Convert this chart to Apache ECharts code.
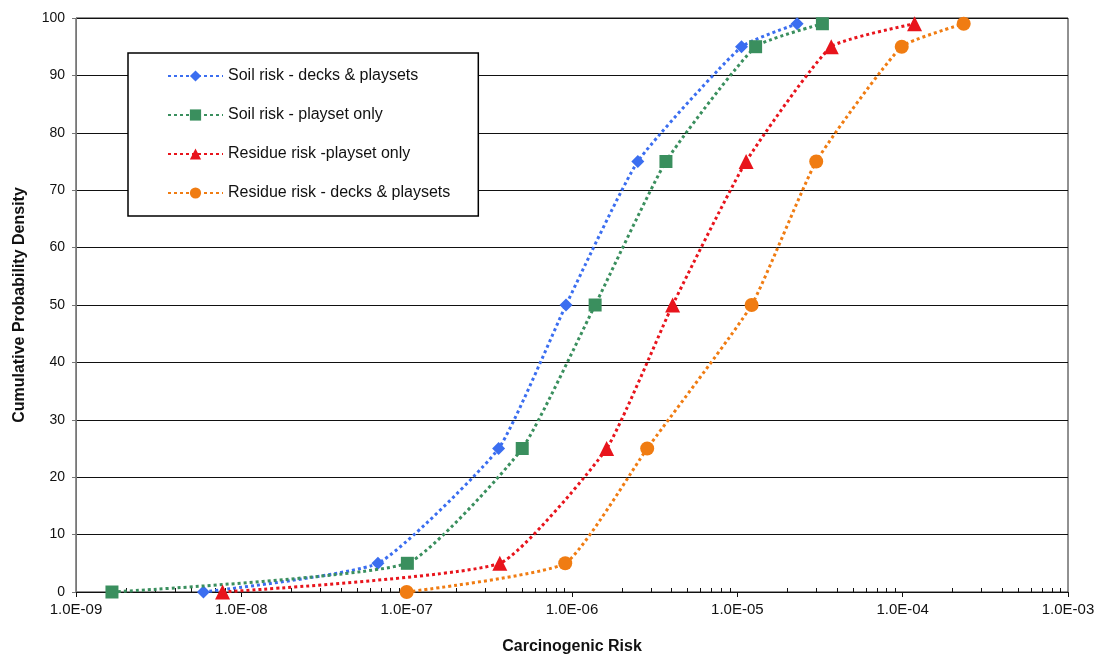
<!DOCTYPE html>
<html>
<head>
<meta charset="utf-8">
<script src="https://cdn.jsdelivr.net/npm/echarts@6/dist/echarts.min.js"></script>
<style>html,body{margin:0;padding:0;background:#fff}#c{width:1103px;height:659px}</style>
</head>
<body>
<div id="c"></div>
<script>
// Cumulative probability levels (y values)
const percentiles = [0, 5, 25, 50, 75, 95, 99];
// Carcinogenic risk values (x values) for each series
const soilDecks = [5.9e-9, 6.7e-8, 3.6e-7, 9.2e-7, 2.5e-6, 1.06e-5, 2.3e-5];
const soilPlayset = [1.65e-9, 1.01e-7, 5.0e-7, 1.38e-6, 3.7e-6, 1.29e-5, 3.27e-5];
const residuePlayset = [7.7e-9, 3.66e-7, 1.62e-6, 4.06e-6, 1.13e-5, 3.7e-5, 1.18e-4];
const residueDecks = [1.0e-7, 9.1e-7, 2.85e-6, 1.22e-5, 3.0e-5, 9.87e-5, 2.34e-4];
const seriesNames = ['Soil risk - decks & playsets', 'Soil risk - playset only', 'Residue risk -playset only', 'Residue risk - decks & playsets'];
// Tick labels for x axis decades
const xTickValues = [1e-9, 1e-8, 1e-7, 1e-6, 1e-5, 1e-4, 1e-3];
const xTickLabels = ['1.0E-09', '1.0E-08', '1.0E-07', '1.0E-06', '1.0E-05', '1.0E-04', '1.0E-03'];
const minorTickValues = [];
for (let e = -9; e < -3; e++) { for (let m = 2; m <= 9; m++) minorTickValues.push(m * Math.pow(10, e)); }

const pair = xs => xs.map((x, i) => [x, percentiles[i]]);
const colors = ['#3b6ef0', '#3a8f5e', '#e8141c', '#f07c12'];
const symbols = ['diamond', 'rect', 'triangle', 'circle'];
const sizes = [13, 13, 15, 14];
const dataSets = [soilDecks, soilPlayset, residuePlayset, residueDecks];

const chart = echarts.init(document.getElementById('c'), null, {renderer: 'canvas'});
const font = 'Liberation Sans, Arial, sans-serif';
chart.setOption({
  animation: false,
  backgroundColor: '#fff',
  textStyle: {fontFamily: font},
  grid: {left: 76, right: 35, top: 18, bottom: 67, show: true, borderColor: '#222', borderWidth: 1, outerBoundsMode: 'none', containLabel: false},
  legend: {
    orient: 'vertical', left: 128, top: 53,
    data: seriesNames,
    backgroundColor: '#fff', borderColor: '#000', borderWidth: 1.5,
    padding: [15, 28, 15, 39],
    itemGap: 23, itemWidth: 55, itemHeight: 14,
    textStyle: {fontSize: 16, color: '#111', fontFamily: font}
  },
  xAxis: [{
    type: 'log', logBase: 10, min: 1e-9, max: 1e-3,
    name: 'Carcinogenic Risk', nameLocation: 'middle', nameGap: 47,
    nameTextStyle: {fontWeight: 'bold', fontSize: 16, color: '#111'},
    axisLine: {lineStyle: {color: '#111', width: 1}},
    axisTick: {show: true, length: 5, lineStyle: {color: '#111'}},
    axisLabel: {margin: 10, fontSize: 15, color: '#111',
      formatter: v => { const i = xTickValues.findIndex(t => Math.abs(Math.log10(t) - Math.log10(v)) < 1e-6); return i >= 0 ? xTickLabels[i] : ''; }},
    splitLine: {show: false}, minorTick: {show: false}
  }, {
    type: 'log', logBase: 10, min: 1e-9, max: 1e-3, position: 'bottom',
    axisLine: {show: false},
    axisTick: {show: true, inside: true, length: 4, customValues: minorTickValues, lineStyle: {color: '#111'}},
    axisLabel: {show: false}, splitLine: {show: false}
  }],
  yAxis: {
    type: 'value', min: 0, max: 100, interval: 10,
    name: 'Cumulative Probability Density', nameLocation: 'middle', nameGap: 48,
    nameTextStyle: {fontWeight: 'bold', fontSize: 16, color: '#111'},
    axisLine: {show: true, lineStyle: {color: '#777'}},
    axisTick: {show: true, length: 4, lineStyle: {color: '#777'}},
    axisLabel: {margin: 11, fontSize: 14, color: '#111'},
    splitLine: {lineStyle: {color: '#111', width: 1}}
  },
  series: dataSets.map((d, i) => ({
    name: seriesNames[i], type: 'line', xAxisIndex: 0,
    data: pair(d), smooth: 0.15,
    symbol: symbols[i], symbolSize: sizes[i],
    itemStyle: {color: colors[i]},
    lineStyle: {color: colors[i], width: 3, type: [3, 3]},
    z: 3 + i
  }))
});
</script>
</body>
</html>
